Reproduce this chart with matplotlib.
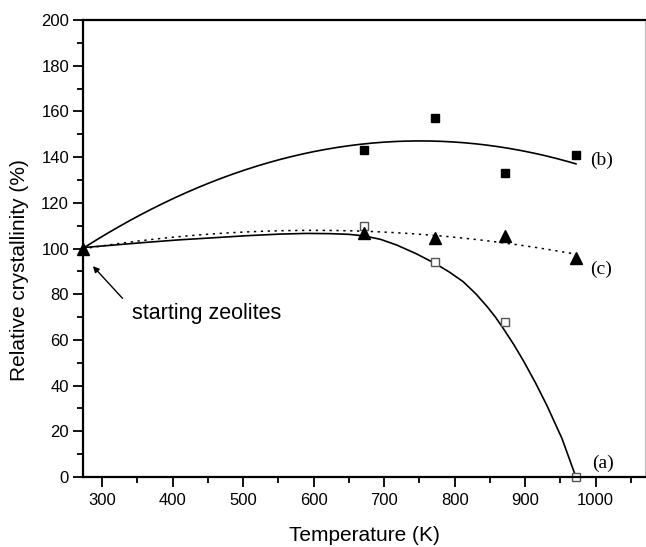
import numpy as np
import matplotlib.pyplot as plt
from matplotlib.ticker import MultipleLocator

# temperatures (K) and relative crystallinity (%)
temp = [273, 672, 772, 872, 972]
cryst_a = [100, 110, 94, 68, 0]
cryst_b = [100, 143, 157, 133, 141]
cryst_c = [100, 107, 104.5, 105.5, 96]

# curve (a)
curve_a_x = [273, 320, 363, 410, 458, 505, 552, 590, 623, 650, 672, 695, 718, 745, 772,
             792, 812, 830, 846, 858, 869, 884, 898, 915, 931, 952, 972]
curve_a_y = [100.4, 101.6, 102.7, 103.8, 104.7, 105.6, 106.3, 106.6, 106.5, 106.2, 105.5,
             104.0, 101.5, 97.8, 93.5, 89.8, 85.5, 80.2, 74.6, 69.9, 65.0, 57.9, 50.6,
             41.0, 31.2, 17.0, 0]

fig = plt.figure(figsize=(6.46, 5.47), dpi=100)
ax = fig.add_axes([0.1285, 0.128, 0.87, 0.8354])

# fits for (b) and (c)
xs = np.linspace(temp[0], temp[-1], 300)
fit_b = np.polyval(np.polyfit(temp, cryst_b, 2), xs)
fit_c = np.polyval(np.polyfit(temp, cryst_c, 2), xs)

ax.plot(curve_a_x, curve_a_y, color='black', lw=1.2)
ax.plot(xs, fit_b, color='black', lw=1.2)
ax.plot(xs, fit_c, color='black', lw=1.1, linestyle=(0, (1.5, 3)))

ax.plot(temp[1:], cryst_a[1:], 's', mfc='white', mec='#555555', ms=5.5, mew=1, clip_on=False)
ax.plot(temp[1:], cryst_b[1:], 's', color='black', ms=6)
ax.plot(temp, cryst_c, '^', color='black', ms=9, clip_on=False)

ax.text(1009, 138.5, '(b)', family='Liberation Serif', fontsize=14, ha='center', va='center')
ax.text(1008, 91, '(c)', family='Liberation Serif', fontsize=14, ha='center', va='center')
ax.text(1010, 6, '(a)', family='Liberation Serif', fontsize=14, ha='center', va='center')

# arrow pointing at the starting point
ax.annotate('', xy=(287, 92.3), xytext=(329, 78.2),
            arrowprops=dict(arrowstyle='-|>', color='black', lw=1, shrinkA=0, shrinkB=0,
                            mutation_scale=9))
ax.text(342, 71.6, 'starting zeolites', family='Liberation Sans', fontsize=15.5,
        va='center', ha='left')

ax.set_xlim(273, 1070)
ax.set_ylim(0, 200)
ax.set_xticks([300, 400, 500, 600, 700, 800, 900, 1000])
ax.xaxis.set_minor_locator(MultipleLocator(50))
ax.yaxis.set_major_locator(MultipleLocator(20))
ax.yaxis.set_minor_locator(MultipleLocator(10))
ax.tick_params(which='major', direction='out', length=7, width=1.3, labelsize=12, pad=3)
ax.tick_params(axis='x', which='major', pad=4.5)
ax.tick_params(which='minor', direction='out', length=4, width=1.3)
for lab in ax.get_xticklabels() + ax.get_yticklabels():
    lab.set_family('Liberation Sans')
for side in ['left', 'bottom', 'top']:
    ax.spines[side].set_linewidth(1.6)
ax.spines['right'].set_linewidth(0.8)
ax.spines['right'].set_color('#bbbbbb')

ax.set_xlabel('Temperature (K)', family='Liberation Sans', fontsize=15, labelpad=13)
ax.set_ylabel('Relative crystallinity (%)', family='Liberation Sans', fontsize=15)
ax.yaxis.set_label_coords(-0.096, 0.453)

fig.savefig('out.png', dpi=100)
